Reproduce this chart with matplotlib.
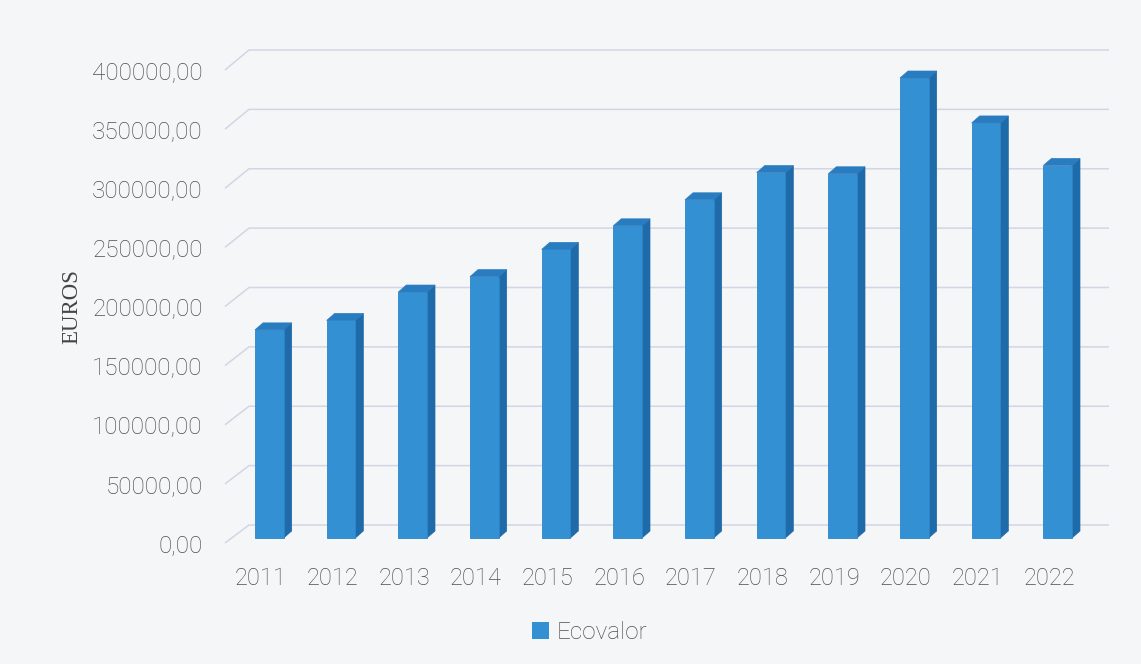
import numpy as np
import matplotlib
matplotlib.use("Agg")
from matplotlib import pyplot as plt
from matplotlib.patches import Polygon, Patch
from matplotlib.ticker import FuncFormatter

# datos
anos = ["2011", "2012", "2013", "2014", "2015", "2016",
        "2017", "2018", "2019", "2020", "2021", "2022"]
ecovalor = [176000, 184000, 208000, 221000, 244000, 264000,
            286000, 309000, 308000, 389000, 351000, 315000]
y_ticks = [0, 50000, 100000, 150000, 200000, 250000, 300000, 350000, 400000]

c_front = "#3390d3"
c_side = "#1f6aa8"
c_top = "#2a7cc0"
c_grid = "#d3d5e4"
c_text = "#4f4f4f"

plt.rcParams['font.family'] = ['Roboto', 'DejaVu Sans']

fig = plt.figure(figsize=(11.41, 6.64), dpi=100)
fig.patch.set_facecolor("#f5f6f8")
ax = fig.add_axes([225/1141, 121/664, 860/1141, 473/664])
ax.set_facecolor("none")
ax.set_xlim(-0.5, len(anos) - 0.5)
ax.set_ylim(0, 400000)
for s in ax.spines.values():
    s.set_visible(False)

def desp(x, y, dx, dy):
    # punto de datos desplazado dx, dy pixeles
    p = ax.transData.transform((x, y)) + np.array([dx, dy])
    return ax.transData.inverted().transform(p)

# pared del fondo (lineas de division)
wall_dx, wall_dy = 24, 18
for v in y_ticks:
    p0 = desp(-0.5, v, 0, 0)
    p1 = desp(-0.5, v, wall_dx, wall_dy + v / 400000 * 2)
    p2 = desp(len(anos) - 0.5, v, wall_dx, wall_dy + v / 400000 * 2)
    ax.plot([p0[0], p1[0], p2[0]], [p0[1], p1[1], p2[1]],
            color=c_grid, lw=1.1, zorder=1, solid_capstyle='butt', clip_on=False)

# barras 3d
bw = 0.4
fx, fy = 8.5, 5      # cara frontal
ddx, ddy = 8, 7      # profundidad
x = np.arange(len(anos))
for i, v in zip(x, ecovalor):
    a = desp(i - bw/2, 0, fx, fy)
    b = desp(i + bw/2, 0, fx, fy)
    c = desp(i + bw/2, v, fx, fy)
    d = desp(i - bw/2, v, fx, fy)
    b2 = desp(i + bw/2, 0, fx + ddx, fy + ddy)
    c2 = desp(i + bw/2, v, fx + ddx, fy + ddy)
    d2 = desp(i - bw/2, v, fx + ddx, fy + ddy)
    ax.add_patch(Polygon([b, b2, c2, c], closed=True, fc=c_side, ec=c_side, lw=0.5,
                         zorder=3, clip_on=False))
    ax.add_patch(Polygon([d, c, c2, d2], closed=True, fc=c_top, ec=c_top, lw=0.5,
                         zorder=3, clip_on=False))
    ax.add_patch(Polygon([a, b, c, d], closed=True, fc=c_front, ec="#2c84c8", lw=0.6,
                         zorder=4, clip_on=False))

ax.set_xticks(x)
ax.set_xticklabels(anos)
ax.set_yticks(y_ticks)
ax.yaxis.set_major_formatter(FuncFormatter(lambda v, p: ("%.2f" % v).replace(".", ",")))
ax.tick_params(axis='both', length=0, labelcolor=c_text)
ax.tick_params(axis='y', pad=16, labelsize=17.5)
ax.tick_params(axis='x', pad=17, labelsize=17)
for lb in ax.get_xticklabels() + ax.get_yticklabels():
    lb.set_fontweight('light')

fig.text(72/1141, 1 - 307/664, "EUROS", rotation=90, ha='center', va='center',
         fontsize=16.5, color="#444444", family='Liberation Serif')

leg = fig.legend(handles=[Patch(fc=c_front, ec="none")], labels=["Ecovalor"],
                 loc='center', bbox_to_anchor=(0.517, 0.047), frameon=False,
                 handlelength=0.7, handleheight=0.7, handletextpad=0.3,
                 prop={'size': 17.5, 'weight': 'light'})
for t in leg.get_texts():
    t.set_color(c_text)

fig.savefig("out.png", dpi=100, facecolor=fig.get_facecolor())
